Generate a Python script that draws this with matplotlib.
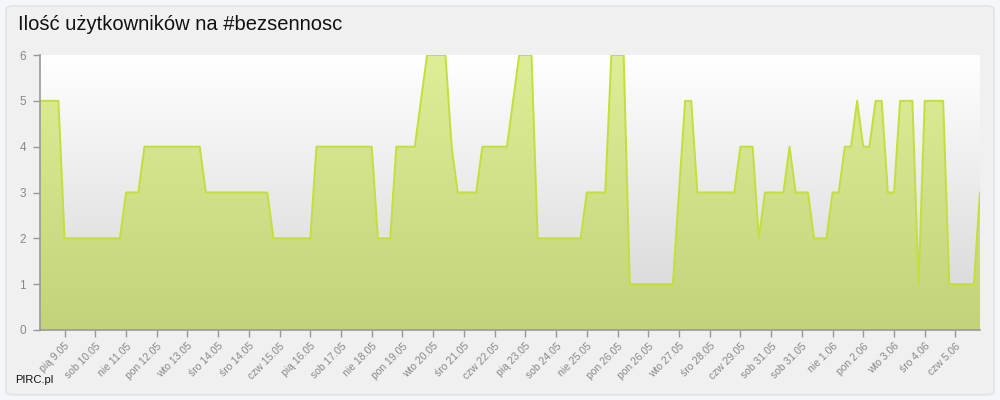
import numpy as np
import matplotlib
matplotlib.use("Agg")
import matplotlib.pyplot as plt
from matplotlib.patches import FancyBboxPatch

plt.rcParams['font.family'] = ['Liberation Sans', 'DejaVu Sans']

# number of users, one value per sample
users = ([5] * 4 + [2] * 10 + [3] * 3 + [4] * 10 + [3] * 11 + [2] * 7 + [4] * 10 +
         [2] * 3 + [4] * 4 + [5] + [6] * 4 + [4] + [3] * 4 + [4] * 5 + [5] + [6] * 3 +
         [2] * 8 + [3] * 4 + [6] * 3 + [1] * 8 + [3] + [5] * 2 + [3] * 7 + [4] * 3 +
         [2] + [3] * 4 + [4] + [3] * 3 + [2] * 3 + [3] * 2 + [4] * 2 + [5] + [4] * 2 +
         [5] * 2 + [3] * 2 + [5] * 3 + [1] + [5] * 4 + [1] * 5 + [3])

tick_labels = ['pią 9.05', 'sob 10.05', 'nie 11.05', 'pon 12.05', 'wto 13.05',
               'śro 14.05', 'śro 14.05', 'czw 15.05', 'pią 16.05', 'sob 17.05',
               'nie 18.05', 'pon 19.05', 'wto 20.05', 'śro 21.05', 'czw 22.05',
               'pią 23.05', 'sob 24.05', 'nie 25.05', 'pon 26.05', 'pon 26.05',
               'wto 27.05', 'śro 28.05', 'czw 29.05', 'sob 31.05', 'sob 31.05',
               'nie 1.06', 'pon 2.06', 'wto 3.06', 'śro 4.06', 'czw 5.06']
tick_pos = [4 + 5 * i for i in range(len(tick_labels))]

x = np.arange(len(users))
y = np.array(users)

fig = plt.figure(figsize=(10, 4), dpi=100)
fig.patch.set_facecolor('#f5f6fa')
panel = FancyBboxPatch((0.006, 0.013), 0.988, 0.972, boxstyle="round,pad=0,rounding_size=0.008",
                       transform=fig.transFigure, facecolor='#f0f0f0', edgecolor='#e2e3e8',
                       linewidth=1.2, zorder=-5)
fig.patches.append(panel)

ax = fig.add_axes([0.04, 0.175, 0.94, 0.6875])
ax.set_zorder(1)
ax.patch.set_alpha(0)

# plot area gradient
bg = np.linspace(0, 1, 256).reshape(-1, 1)
ax.imshow(bg, extent=[0, len(users) - 1, 0, 6], aspect='auto', origin='lower',
          cmap=matplotlib.colors.LinearSegmentedColormap.from_list('bg', ['#d5d5d5', '#ffffff']),
          zorder=0)

# area with gradient
poly = ax.fill_between(x, 0, y, facecolor='none', edgecolor='none', zorder=1)
grad = np.linspace(0, 1, 256).reshape(-1, 1)
cm = matplotlib.colors.LinearSegmentedColormap.from_list('g', ['#c3d37c', '#dcee96'])
im = ax.imshow(grad, extent=[0, len(users) - 1, 0, 6], aspect='auto', origin='lower',
               cmap=cm, zorder=1)
im.set_clip_path(poly.get_paths()[0], transform=ax.transData)
ax.plot(x, y, color='#c2df3c', lw=1.4, zorder=2)
ax.set_xlim(0, len(users) - 1)
ax.set_ylim(0, 6)

for s in ['top', 'right']:
    ax.spines[s].set_visible(False)
for s in ['left', 'bottom']:
    ax.spines[s].set_color('#999999')
    ax.spines[s].set_linewidth(1.2)

ax.set_yticks(range(7))
ax.set_xticks(tick_pos)
ax.set_xticklabels(tick_labels, rotation=45, ha='right', va='top', rotation_mode='anchor')
ax.tick_params(axis='y', colors='#999999', labelcolor='#888888', labelsize=8.5, length=5, width=1, pad=5)
ax.tick_params(axis='x', colors='#999999', labelcolor='#888888', labelsize=7.5, length=5, width=1, pad=3)

fig.text(0.018, 0.925, 'Ilość użytkowników na #bezsennosc', fontsize=14.5, color='#111111',
         va='baseline')
fig.text(0.015, 0.043, 'PIRC.pl', fontsize=8, color='#111111', va='baseline')

fig.savefig('out.png', dpi=100, facecolor=fig.get_facecolor())
